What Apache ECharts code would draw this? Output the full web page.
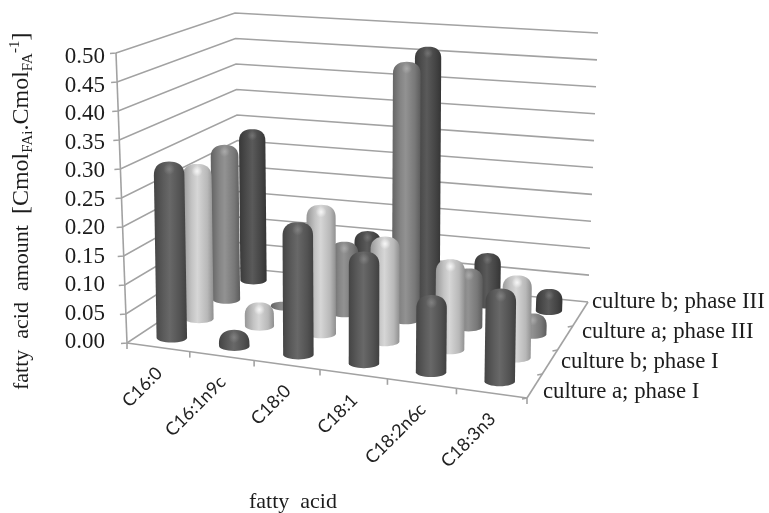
<!DOCTYPE html>
<html><head><meta charset="utf-8">
<style>html,body{margin:0;padding:0;background:#fff}#c{width:769px;height:513px}</style>
<script src="https://cdn.jsdelivr.net/npm/echarts@6/dist/echarts.min.js"></script>
</head><body><div id="c"></div>
<script>
const categories = ['C16:0','C16:1n9c','C18:0','C18:1','C18:2n6c','C18:3n3'];
const rowNames = ['culture a; phase I','culture b; phase I','culture a; phase III','culture b; phase III'];
const cultureAPhaseI   = [0.307, 0.028, 0.227, 0.19, 0.13, 0.155];
const cultureBPhaseI   = [0.278, 0.042, 0.228, 0.184, 0.157, 0.142];
const cultureAPhaseIII = [0.287, 0.008, 0.13, 0.467, 0.105, 0.037];
const cultureBPhaseIII = [0.29, 0, 0.115, 0.47, 0.095, 0.04];
const yTicks = [0,0.05,0.10,0.15,0.20,0.25,0.30,0.35,0.40,0.45,0.50];
const yTitle = '{n|fatty  acid  amount  }{b|[Cmol}{s|FAi}{b|.Cmol}{s|FA}{u|-1}{b|]}';
const xTitle = 'fatty  acid';

const rowSeries = [cultureAPhaseI, cultureBPhaseI, cultureAPhaseIII, cultureBPhaseIII];
const rowStops = [
  ['#444444','#5c5c5c','#686868','#525252','#404040'],
  ['#969696','#c4c4c4','#d6d6d6','#b8b8b8','#8e8e8e'],
  ['#626262','#858585','#929292','#787878','#5c5c5c'],
  ['#383838','#4e4e4e','#5a5a5a','#444444','#343434']
];
const rowHi = ['rgba(150,150,150,0.55)','rgba(255,255,255,0.8)','rgba(190,190,190,0.55)','rgba(140,140,140,0.5)'];
const G = {left:113, top:57, width:400, height:285};

function bilinear(p){
  const warp=0.07;
  return (u,w)=>{
    const uu=u-warp*u*(1-u);
    const fx=p[0][0]+(p[1][0]-p[0][0])*uu, fy=p[0][1]+(p[1][1]-p[0][1])*uu;
    const bx=p[3][0]+(p[2][0]-p[3][0])*uu, by=p[3][1]+(p[2][1]-p[3][1])*uu;
    return [fx+(bx-fx)*w,fy+(by-fy)*w];
  };
}
const floorH = bilinear([[127,343],[527,398],[588,302],[240,268]]);
const topH   = bilinear([[116,53],[535.6,93],[598,33],[235,13]]);
function project(u,w,v){
  const F=floorH(u,w),T=topH(u,w);
  return [F[0]+(T[0]-F[0])*v,F[1]+(T[1]-F[1])*v];
}
function unit(pt){return [(pt[0]-G.left)/G.width,(G.top+G.height-pt[1])/G.height];}
const lineStyle={stroke:'#a2a2a2',lineWidth:1.6,fill:null};

function wallItem(params,api){
  const v=unit(api.coord([0,api.value(1)]))[1];
  const a=project(0,0,v),b=project(0,1,v),c=project(1,1,v);
  return {type:'group',children:[
    {type:'polyline',shape:{points:[[a[0]-6,a[1]+0.5],a,b,c]},style:lineStyle}
  ]};
}
function floorItem(params,api){
  const ch=[];
  const seg=(p,q)=>ch.push({type:'line',shape:{x1:p[0],y1:p[1],x2:q[0],y2:q[1]},style:lineStyle});
  seg(project(0,0,0),project(0,0,1));
  seg(project(0,0,0),project(1,0,0));
  seg(project(1,0,0),project(1,1,0));
  for(let i=0;i<=categories.length;i++){const p=project(i/categories.length,0,0);seg(p,[p[0],p[1]+6]);}
  for(let r=0;r<=3;r++){const p=project(1,r/4,0);seg(p,[p[0]-5,p[1]+1]);}
  return {type:'group',children:ch};
}
function catLabelItem(params,api){
  const pt=api.coord([api.value(0),0]);
  const u=unit(pt)[0];
  const p=project(u,0,0);
  return {type:'text',x:p[0]+1,y:p[1]+23,rotation:Math.PI/4,
    style:{text:categories[api.value(0)],align:'right',verticalAlign:'middle',
      font:'18px Lato',fill:'#222'}};
}
function barItem(row){
  const w=(row+0.5)/rowSeries.length;
  const width=30.5-1.4*row;
  return function(params,api){
    const val=api.value(1);
    if(!val) return null;
    const un=unit(api.coord([api.value(0),val]));
    const base=project(un[0],w,0), tp=project(un[0],w,un[1]);
    const top=[base[0]+(tp[0]-base[0])*0.5,tp[1]];
    const r=width/2, ry=r*0.32, h=base[1]-top[1];
    const dome=Math.min(r*0.9,h);
    const pts=[];
    for(let i=0;i<=16;i++){const t=Math.PI*(1-i/16);
      pts.push([base[0]+r*Math.cos(t),base[1]+ry*Math.sin(t)]);}
    const dy=top[1]+dome;
    for(let i=0;i<=24;i++){const t=Math.PI*i/24;
      const c=Math.cos(t), s=Math.sin(t);
      const e=2/2.4;
      pts.push([top[0]+r*Math.sign(c)*Math.pow(Math.abs(c),e),
                dy-dome*Math.pow(s,e)]);}
    const st=rowStops[row];
    return {type:'group',children:[
      {type:'polygon',shape:{points:pts},style:{
        fill:new echarts.graphic.LinearGradient(0,0,1,0,[
          {offset:0,color:st[0]},{offset:0.3,color:st[1]},{offset:0.48,color:st[2]},
          {offset:0.8,color:st[3]},{offset:1,color:st[4]}])}},
      {type:'ellipse',shape:{cx:top[0],cy:top[1]+dome*0.55,rx:r*0.55,ry:dome*0.42},style:{
        fill:new echarts.graphic.RadialGradient(0.5,0.5,0.5,[
          {offset:0,color:rowHi[row]},{offset:1,color:rowHi[row].replace(/[\d.]+\)$/,'0)')}])}}
    ]};
  };
}
const textColor='#1c1c1c';
const legendPos=[[543,392],[561,362],[582,332],[592,302]];
const graphics=[
  {type:'text',x:22,y:390,rotation:Math.PI/2,silent:true,style:{
    text:yTitle,align:'left',verticalAlign:'middle',fill:textColor,
    rich:{
      n:{fontFamily:'Liberation Serif',fontSize:22,fill:textColor,lineHeight:28},
      b:{fontFamily:'Liberation Serif',fontSize:24,fill:textColor,lineHeight:28},
      s:{fontFamily:'Liberation Serif',fontSize:15,fill:textColor,verticalAlign:'bottom',lineHeight:18},
      u:{fontFamily:'Liberation Serif',fontSize:15,fill:textColor,verticalAlign:'top',lineHeight:18}
    }}},
  {type:'text',x:293,y:502,silent:true,style:{text:xTitle,align:'center',verticalAlign:'middle',
    font:'22px "Liberation Serif"',fill:textColor}}
];
rowNames.forEach((n,i)=>graphics.push({type:'text',x:legendPos[i][0],y:legendPos[i][1],silent:true,
  style:{text:n,align:'left',verticalAlign:'middle',font:'22.8px "Liberation Serif"',fill:textColor}}));

const series=[
  {type:'custom',name:'wall',coordinateSystem:'cartesian2d',renderItem:wallItem,silent:true,z:1,
   data:yTicks.map(t=>[0,t]),encode:{x:0,y:1}},
  {type:'custom',name:'floor',coordinateSystem:'cartesian2d',renderItem:floorItem,silent:true,z:1,
   data:[[0,0]],encode:{x:0,y:1}},
  {type:'custom',name:'labels',coordinateSystem:'cartesian2d',renderItem:catLabelItem,silent:true,z:1,
   data:categories.map((c,i)=>[i,0]),encode:{x:0,y:1}}
];
[3,2,1,0].forEach((r,k)=>series.push({type:'custom',name:rowNames[r],coordinateSystem:'cartesian2d',
  renderItem:barItem(r),z:2+k,data:rowSeries[r].map((v,i)=>[i,v]),encode:{x:0,y:1}}));

const chart=echarts.init(document.getElementById('c'),null,{renderer:'canvas'});
chart.setOption({
  animation:false,backgroundColor:'#fff',
  grid:Object.assign({containLabel:false},G),
  xAxis:{type:'category',data:categories,show:false},
  yAxis:{type:'value',min:0,max:0.5,interval:0.05,
    axisLine:{show:false},axisTick:{show:false},splitLine:{show:false},
    axisLabel:{margin:8,formatter:v=>v.toFixed(2),fontFamily:'Liberation Serif',fontSize:23,color:textColor}},
  graphic:graphics,
  series
});
</script></body></html>
